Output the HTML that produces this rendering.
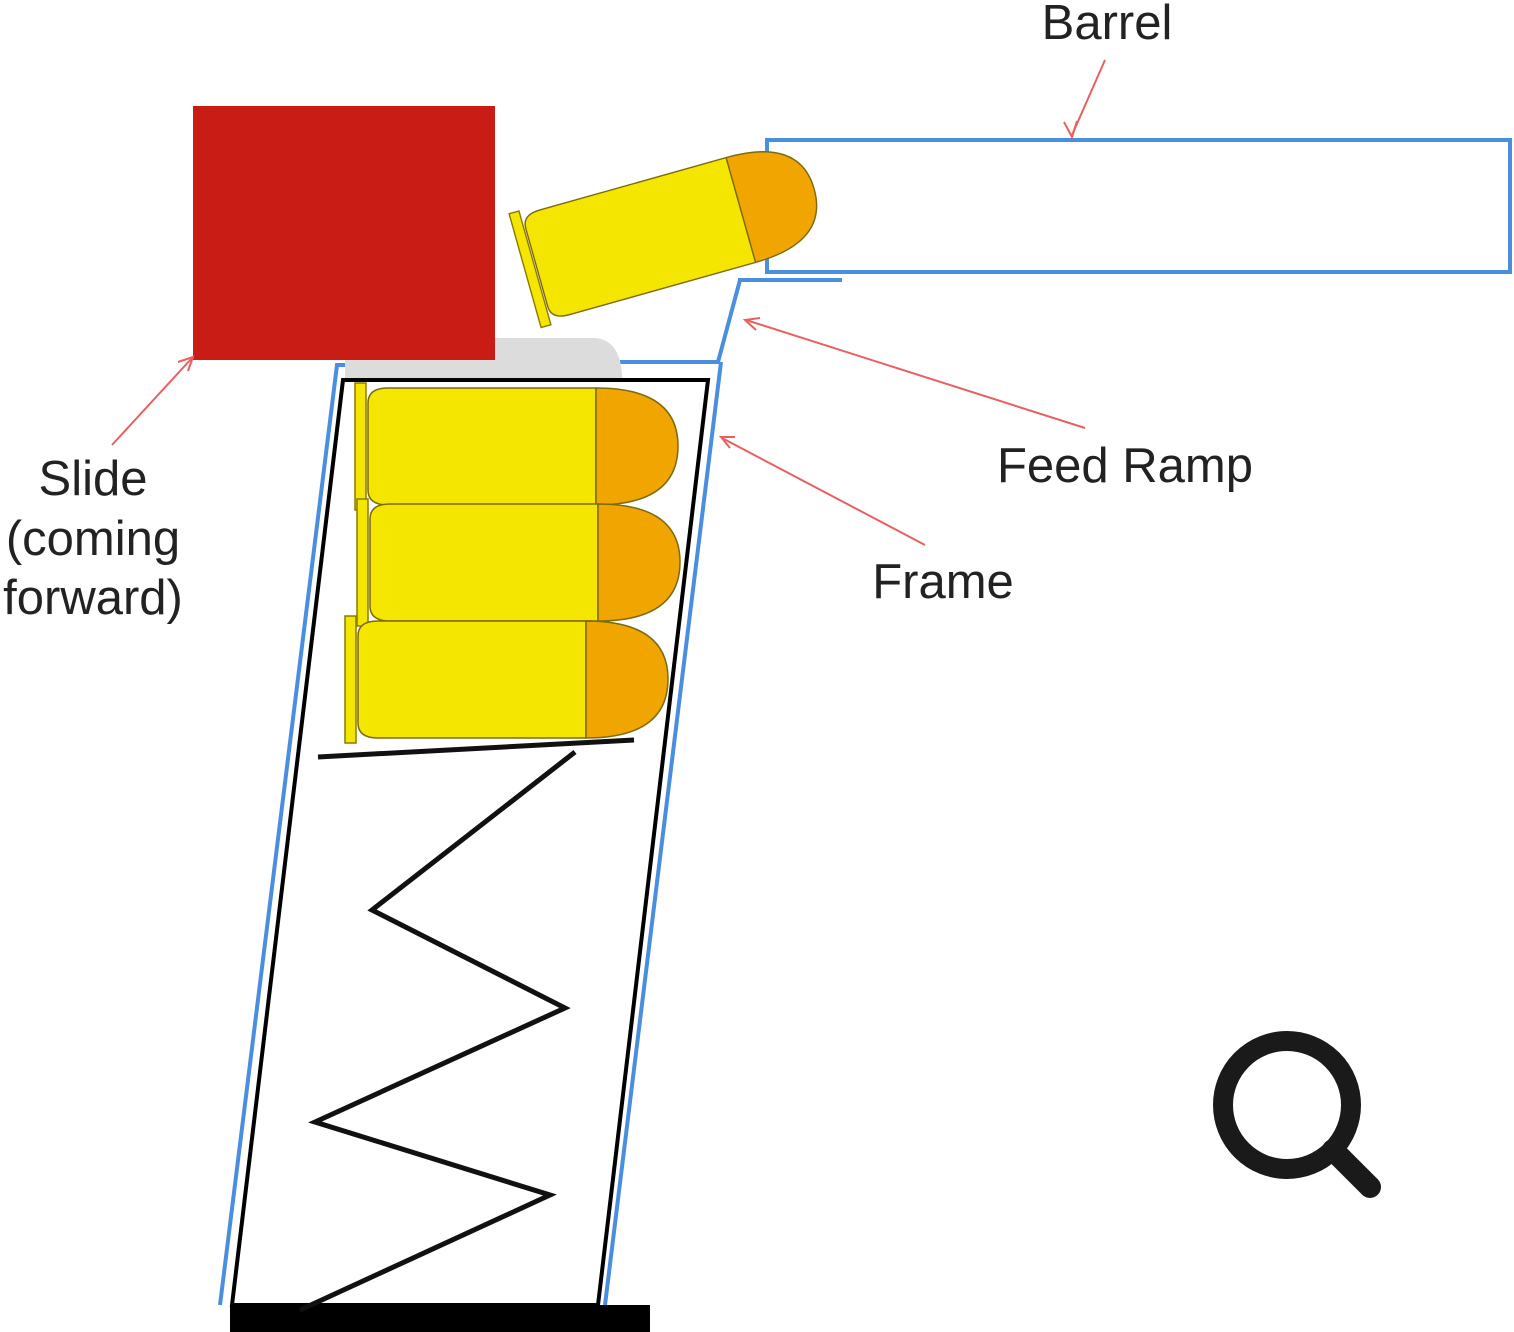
<!DOCTYPE html>
<html><head><style>
html,body{margin:0;padding:0;background:#fff;}
svg{display:block;}
text{font-family:"Liberation Sans",sans-serif;fill:#222;}
</style></head><body>
<svg width="1514" height="1332" viewBox="0 0 1514 1332" xmlns="http://www.w3.org/2000/svg">
<defs>
<g id="cart">
  <rect x="-13" y="-5" width="11" height="127" fill="#f5e600" stroke="#8a7a00" stroke-width="1.5"/>
  <path d="M0,15 Q0,0 20,0 L228,0 L228,117 L20,117 Q0,117 0,102 Z" fill="#f5e600" stroke="#7a6a10" stroke-width="1.5"/>
  <path d="M228,0 Q310,0 310,58 Q310,117 228,117 Z" fill="#f0a500" stroke="#7a6a10" stroke-width="1.5"/>
</g>
</defs>
<rect x="767" y="140" width="743" height="132" fill="none" stroke="#4a8ee0" stroke-width="4"/>
<line x1="738" y1="280" x2="842" y2="280" stroke="#4a8ee0" stroke-width="4"/>
<polyline points="740,280 718,362 620,362" fill="none" stroke="#4a8ee0" stroke-width="4"/>
<line x1="721" y1="362" x2="605" y2="1305" stroke="#4a8ee0" stroke-width="4"/>
<polyline points="345,365 337,365 220,1305" fill="none" stroke="#4a8ee0" stroke-width="4"/>
<path d="M345,378 L345,338 L595,338 Q620,340 622,375 L622,378 Z" fill="#dcdcdc"/>
<polygon points="343,380 708,380 598,1305 232,1305" fill="none" stroke="#000" stroke-width="4"/>
<rect x="230" y="1305" width="420" height="27" fill="#000"/>
<rect x="193" y="106" width="302" height="254" fill="#c81c14"/>
<use href="#cart" transform="translate(368,388)"/>
<use href="#cart" transform="translate(370,504)"/>
<use href="#cart" transform="translate(358,621)"/>
<use href="#cart" transform="translate(522,215) rotate(-15.7) scale(0.93)"/>
<line x1="318" y1="757" x2="634" y2="740" stroke="#111" stroke-width="5"/>
<polyline points="575,752 372,910 565,1008 315,1122 550,1195 300,1310" fill="none" stroke="#111" stroke-width="5"/>
<g stroke="#e86060" stroke-width="2" fill="none">
<line x1="1105" y1="60" x2="1072" y2="135"/>
<path d="M1064,122 L1072,137 L1077,121"/>
<line x1="1085" y1="428" x2="746" y2="320"/>
<path d="M760,318 L745,320 L756,330"/>
<line x1="925" y1="545" x2="722" y2="438"/>
<path d="M735,437 L721,437 L730,448"/>
<line x1="112" y1="445" x2="192" y2="358"/>
<path d="M178,362 L193,357 L188,371"/>
</g>
<text x="1107" y="39" font-size="49" text-anchor="middle">Barrel</text>
<text x="1125" y="482" font-size="49" text-anchor="middle">Feed Ramp</text>
<text x="943" y="598" font-size="49" text-anchor="middle">Frame</text>
<text x="93" y="495" font-size="49" text-anchor="middle">Slide</text>
<text x="93" y="555" font-size="49" text-anchor="middle">(coming</text>
<text x="93" y="614" font-size="49" text-anchor="middle">forward)</text>
<circle cx="1287" cy="1105" r="64" fill="none" stroke="#1a1a1a" stroke-width="20"/>
<line x1="1333" y1="1150" x2="1370" y2="1187" stroke="#1a1a1a" stroke-width="22" stroke-linecap="round"/>
</svg>
</body></html>
